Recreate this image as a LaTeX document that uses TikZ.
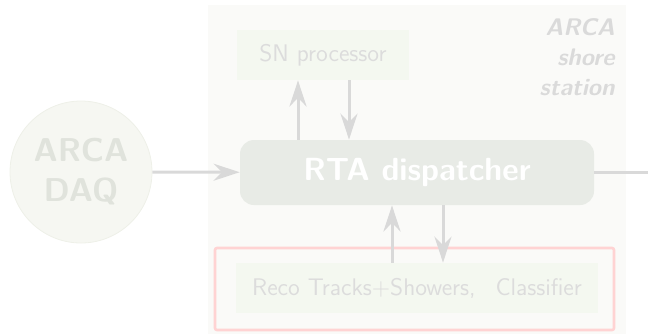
\documentclass[tikz,border=0pt]{standalone}
\usepackage{fontspec}
\usetikzlibrary{arrows.meta}
\renewcommand{\familydefault}{\sfdefault}

\definecolor{shorebg}{HTML}{FAFAF8}
\definecolor{daqfill}{HTML}{F6F7F2}
\definecolor{daqline}{HTML}{EEF0E8}
\definecolor{daqtext}{HTML}{E0E3DC}
\definecolor{dispfill}{HTML}{E8EBE6}
\definecolor{procfill}{HTML}{F4F8F0}
\definecolor{proctext}{HTML}{DCDCDC}
\definecolor{flowgray}{HTML}{D9D9D9}
\definecolor{selred}{HTML}{FFD3D3}
\definecolor{shoretext}{HTML}{DADADA}

\begin{document}
\begin{tikzpicture}[x=0.5pt, y=-0.5pt,
    proc/.style={fill=procfill, minimum height=25pt, text=proctext, font=\fontsize{12}{14}\selectfont},
    flow/.style={-{Stealth[length=13pt, width=8.5pt]}, line width=1.5pt, flowgray}]
  \useasboundingbox (0,0) rectangle (648,334);
  \fill[shorebg] (208,5) rectangle (626,334);
  \node[anchor=north east, align=right, inner sep=0pt, text=shoretext, font=\fontsize{12}{15}\selectfont\bfseries\itshape] (shore) at (615,18) {ARCA\\shore\\station};
  \node[circle, fill=daqfill, draw=daqline, minimum size=71pt, align=center, text=daqtext, font=\fontsize{16.5}{20}\selectfont\bfseries] (daq) at (81,172) {ARCA\\DAQ};
  \node[fill=dispfill, rounded corners=7pt, minimum width=177pt, minimum height=32.5pt, text=white, font=\fontsize{16}{19}\selectfont\bfseries] (disp) at (417,172.5) {RTA dispatcher};
  \node[proc, minimum width=86pt] (sn) at (323,55) {SN processor};
  \node[draw=selred, line width=1.3pt, rounded corners=1pt, minimum width=199.5pt, minimum height=41pt] (sel) at (414.5,289) {};
  \node[proc, minimum width=181pt] (reco) at (417,288) {Reco Tracks+Showers,\enspace\ Classifier};
  \coordinate (out) at (648,172.5);
  \coordinate (snup) at (298,0);
  \coordinate (sndn) at (349,0);
  \coordinate (recoup) at (392,0);
  \coordinate (recodn) at (443,0);
  \draw[flow] (daq) -- (disp);
  \draw[line width=1.5pt, flowgray] (disp) -- (out);
  \draw[flow] (disp.north -| snup) -- (sn.south -| snup);
  \draw[flow] (sn.south -| sndn) -- (disp.north -| sndn);
  \draw[flow] (reco.north -| recoup) -- (disp.south -| recoup);
  \draw[flow] (disp.south -| recodn) -- (reco.north -| recodn);
\end{tikzpicture}
\end{document}
